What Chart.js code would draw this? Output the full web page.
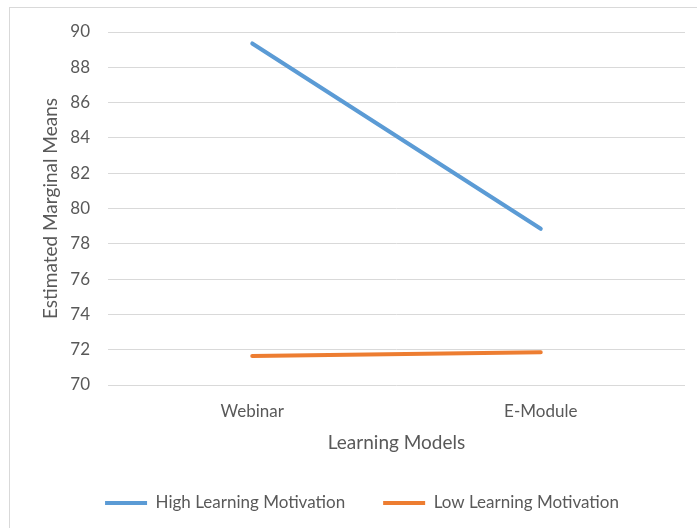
<!DOCTYPE html>
<html>
<head>
<meta charset="utf-8">
<script src="https://cdn.jsdelivr.net/npm/chart.js@4/dist/chart.umd.min.js"></script>
<style>
  body { margin: 0; background: #fff; }
  canvas { display: block; }
</style>
</head>
<body>
<canvas id="myChart" width="697" height="528"></canvas>
<script>
// data
var categories = ['Webinar', 'E-Module'];
var highMotivation = [89.35, 78.85];
var lowMotivation = [71.65, 71.85];
var seriesNames = ['High Learning Motivation', 'Low Learning Motivation'];
var yMin = 70, yMax = 90, yStep = 2;

var gray = '#595959';
var gridColor = '#d9d9d9';

// white background plus the thin outer frame around the chart
var framePlugin = {
  id: 'frame',
  beforeDraw: function(chart) {
    var ctx = chart.ctx;
    ctx.save();
    ctx.fillStyle = '#fff';
    ctx.fillRect(0, 0, chart.width, chart.height);
    ctx.strokeStyle = gridColor;
    ctx.lineWidth = 1;
    ctx.strokeRect(9.5, 7.5, chart.width + 20, chart.height + 20);
    ctx.restore();
  }
};

new Chart(document.getElementById('myChart'), {
  type: 'line',
  data: {
    labels: categories,
    datasets: [
      {
        label: seriesNames[0],
        data: highMotivation,
        borderColor: '#5b9bd5',
        backgroundColor: '#5b9bd5',
        borderWidth: 4,
        borderCapStyle: 'round',
        pointRadius: 0,
        tension: 0
      },
      {
        label: seriesNames[1],
        data: lowMotivation,
        borderColor: '#ed7d31',
        backgroundColor: '#ed7d31',
        borderWidth: 4,
        borderCapStyle: 'round',
        pointRadius: 0,
        tension: 0
      }
    ]
  },
  options: {
    responsive: false,
    animation: false,
    layout: { padding: { left: 39, right: 12, top: 32, bottom: 6.5 } },
    plugins: {
      tooltip: { enabled: false },
      legend: {
        position: 'bottom',
        labels: {
          color: gray,
          font: { family: 'Lato', size: 17 },
          boxWidth: 42,
          boxHeight: 4,
          padding: 38,
          generateLabels: function(chart) {
            var items = Chart.defaults.plugins.legend.labels.generateLabels(chart);
            items.forEach(function(it) { it.lineWidth = 0; });
            return items;
          }
        }
      }
    },
    scales: {
      x: {
        offset: true,
        grid: { display: false },
        border: { display: false },
        ticks: { color: gray, font: { family: 'Lato', size: 17 }, padding: 8 },
        title: {
          display: true,
          text: 'Learning Models',
          color: gray,
          font: { family: 'Lato', size: 19 },
          padding: { top: 0, bottom: 2 }
        },
        afterFit: function(s) { s.height = 71.5; }
      },
      y: {
        min: yMin,
        max: yMax,
        grid: { color: gridColor, drawTicks: false },
        border: { display: false },
        ticks: { stepSize: yStep, color: gray, font: { family: 'Lato', size: 17 }, padding: 18 },
        title: {
          display: true,
          text: 'Estimated Marginal Means',
          color: gray,
          font: { family: 'Lato', size: 19 },
          padding: { top: 0, bottom: 0 }
        },
        afterFit: function(s) { s.width = 69; }
      }
    }
  },
  plugins: [framePlugin]
});
</script>
</body>
</html>
